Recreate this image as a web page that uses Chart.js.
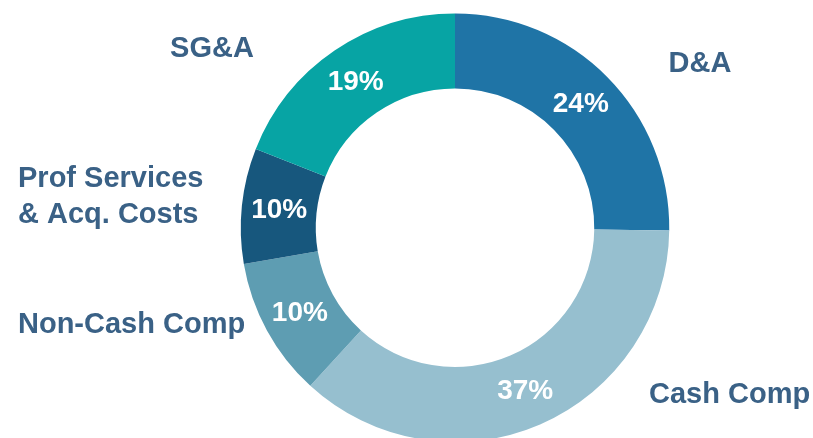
<!DOCTYPE html>
<html>
<head>
<meta charset="utf-8">
<script src="https://cdn.jsdelivr.net/npm/chart.js@4/dist/chart.umd.min.js"></script>
<style>
  html, body { margin: 0; padding: 0; background: #ffffff; overflow: hidden; width: 813px; height: 438px; }
  canvas { display: block; }
</style>
</head>
<body>
<canvas id="c" width="813" height="442"></canvas>
<script>
// ---- data ----
const categories = ["D&A", "Cash Comp", "Non-Cash Comp", "Prof Services\n& Acq. Costs", "SG&A"];
const shareValues = [25.2, 36.6, 10.5, 8.7, 19.0];          // slice sizes
const shareLabels = ["24%", "37%", "10%", "10%", "19%"];     // printed labels
const sliceColors = ["#1f74a6", "#96bfcf", "#5e9db2", "#17577d", "#07a4a4"];

// ---- text placement of category names (left/right columns around the ring) ----
const nameLayout = [
  { x: 700, y: 72,  align: "center" },
  { x: 649, y: 403, align: "left" },
  { x: 18,  y: 333, align: "left" },
  { x: 18,  y: 187, align: "left" },
  { x: 212, y: 57,  align: "center" }
];

const labelPlugin = {
  id: "sliceLabels",
  afterDatasetsDraw(chart) {
    const ctx = chart.ctx;
    const meta = chart.getDatasetMeta(0);
    ctx.save();
    // percentages inside slices
    ctx.font = "bold 28px 'Liberation Sans', Arial, sans-serif";
    ctx.fillStyle = "#ffffff";
    ctx.textAlign = "center";
    ctx.textBaseline = "middle";
    meta.data.forEach((arc, i) => {
      const p = arc.tooltipPosition();
      ctx.fillText(shareLabels[i], p.x, p.y + 1);
    });
    // category names
    ctx.font = "bold 29px 'Liberation Sans', Arial, sans-serif";
    ctx.fillStyle = "#3a6186";
    ctx.textBaseline = "alphabetic";
    categories.forEach((name, i) => {
      const L = nameLayout[i];
      ctx.textAlign = L.align;
      name.split("\n").forEach((line, k) => {
        ctx.fillText(line, L.x, L.y + k * 36);
      });
    });
    ctx.restore();
  }
};

new Chart(document.getElementById("c"), {
  type: "doughnut",
  data: {
    labels: categories,
    datasets: [{
      data: shareValues,
      backgroundColor: sliceColors,
      borderWidth: 0,
      hoverBorderWidth: 0,
      hoverOffset: 0
    }]
  },
  options: {
    responsive: false,
    animation: false,
    cutout: "65%",
    layout: { padding: { top: 13.5, bottom: 0, left: 97, right: 0 } },
    plugins: { legend: { display: false }, tooltip: { enabled: false } }
  },
  plugins: [labelPlugin]
});
</script>
</body>
</html>
